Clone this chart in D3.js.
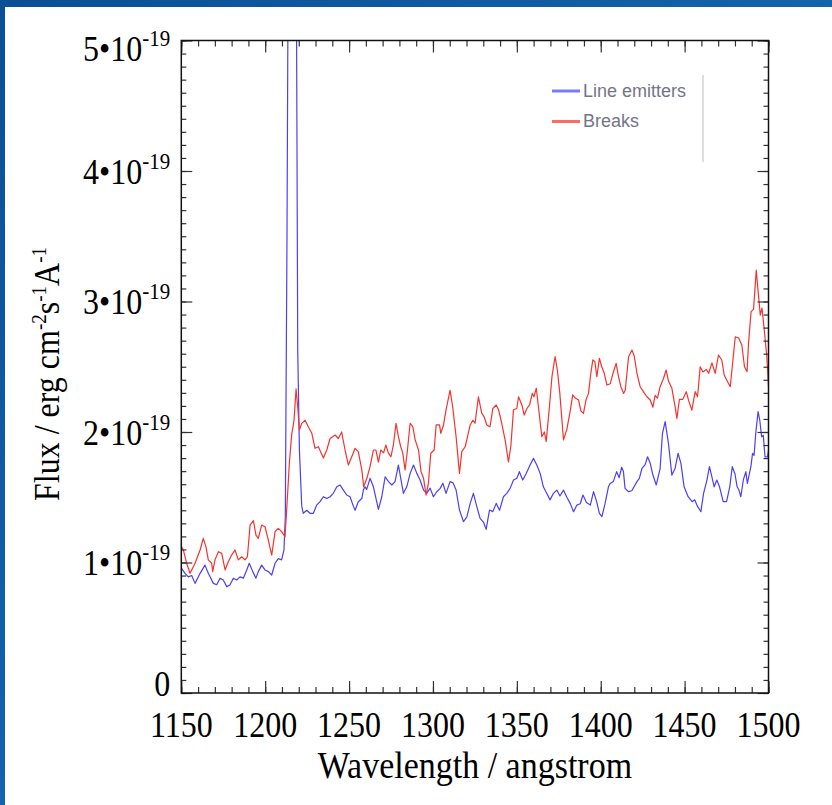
<!DOCTYPE html>
<html>
<head>
<meta charset="utf-8">
<script src="https://cdn.jsdelivr.net/npm/d3@7"></script>
<style>
  body { margin: 0; background: #0b5aa6; }
  svg { display: block; }
</style>
</head>
<body>
<svg id="spectra"></svg>
<script>
// stacked spectra, flux in units of 1e-19 erg cm^-2 s^-1 A^-1
let lineEmittersWave = [1150.2,1152.2,1154.2,1156.2,1158.2,1161.2,1164.1,1166.1,1169.1,1171.1,1173.1,1175.0,1177.1,1179.0,1181.0,1183.0,1185.0,1187.0,1189.0,1190.5,1192.6,1194.5,1195.9,1197.9,1199.9,1201.9,1203.9,1205.9,1207.8,1209.8,1211.2,1212.0,1213.0,1214.0,1216.0,1218.3,1219.4,1220.4,1221.8,1222.7,1224.8,1226.7,1228.7,1230.7,1232.7,1234.7,1236.7,1238.7,1240.6,1242.7,1244.6,1246.6,1248.6,1250.6,1252.6,1253.6,1255.5,1257.6,1258.5,1259.5,1260.5,1262.5,1264.5,1267.5,1269.5,1271.5,1273.5,1275.5,1277.4,1279.4,1280.8,1282.4,1284.4,1286.4,1288.4,1290.4,1292.3,1294.4,1296.3,1298.3,1300.3,1302.3,1304.3,1305.9,1307.8,1310.2,1312.0,1313.8,1315.8,1318.2,1320.2,1322.2,1324.1,1326.1,1328.1,1330.1,1331.7,1333.7,1335.7,1337.7,1339.7,1342.0,1344.0,1346.0,1348.0,1350.0,1351.5,1353.5,1355.5,1357.9,1359.9,1361.9,1363.9,1365.8,1367.8,1369.8,1371.8,1373.8,1375.7,1377.8,1379.8,1381.8,1383.8,1385.8,1387.8,1389.4,1391.5,1393.8,1395.7,1397.5,1399.2,1400.7,1402.6,1404.6,1405.6,1407.5,1409.5,1411.0,1412.5,1413.5,1414.5,1416.5,1418.5,1421.6,1423.0,1424.6,1426.5,1427.9,1429.5,1431.1,1433.1,1435.4,1436.8,1438.4,1440.4,1442.4,1444.3,1446.1,1447.8,1449.7,1452.1,1454.5,1456.0,1457.7,1459.7,1461.3,1463.3,1464.8,1466.2,1467.6,1469.2,1470.8,1473.0,1475.0,1476.9,1478.4,1480.0,1481.3,1482.4,1483.5,1485.0,1486.5,1487.4,1489.5,1490.5,1491.4,1492.4,1493.8,1494.8,1495.9,1496.9,1497.9,1499.4,1500.0];
let lineEmittersFlux = [0.955,0.917,0.89,0.90,0.84,0.917,0.98,0.917,0.84,0.83,0.88,0.866,0.815,0.828,0.88,0.866,0.89,0.88,0.943,0.994,0.93,0.88,0.93,0.98,0.943,0.93,0.904,0.994,1.03,1.02,1.096,1.35,3.5,6.5,9.0,6.5,2.63,1.86,1.43,1.377,1.40,1.377,1.377,1.44,1.466,1.504,1.49,1.504,1.53,1.58,1.594,1.555,1.517,1.504,1.43,1.40,1.466,1.49,1.555,1.58,1.56,1.645,1.58,1.407,1.504,1.657,1.62,1.594,1.62,1.747,1.645,1.53,1.58,1.683,1.747,1.683,1.632,1.555,1.53,1.57,1.504,1.542,1.568,1.607,1.53,1.62,1.61,1.555,1.402,1.313,1.35,1.453,1.53,1.43,1.338,1.31,1.254,1.402,1.39,1.453,1.40,1.504,1.53,1.568,1.632,1.645,1.696,1.632,1.68,1.747,1.798,1.747,1.683,1.58,1.53,1.48,1.53,1.555,1.51,1.555,1.50,1.453,1.389,1.44,1.45,1.517,1.46,1.44,1.543,1.47,1.377,1.351,1.453,1.58,1.606,1.62,1.696,1.65,1.73,1.70,1.568,1.543,1.55,1.62,1.645,1.722,1.75,1.81,1.76,1.67,1.594,1.72,1.99,2.079,1.91,1.67,1.72,1.837,1.76,1.58,1.504,1.466,1.48,1.43,1.389,1.53,1.632,1.734,1.66,1.58,1.632,1.58,1.466,1.466,1.58,1.734,1.68,1.58,1.555,1.504,1.632,1.696,1.606,1.734,1.837,1.82,1.99,2.156,2.09,1.964,1.975,1.81,1.81,1.86];

let breaksWave = [1150.2,1151.2,1153.2,1155.2,1158.2,1161.2,1163.1,1164.7,1166.1,1168.1,1168.7,1170.1,1172.1,1174.1,1176.1,1178.0,1180.0,1182.0,1184.0,1186.0,1188.0,1189.4,1191.0,1193.0,1194.5,1195.9,1197.9,1199.9,1201.9,1203.9,1205.9,1207.8,1209.8,1211.8,1212.8,1214.4,1215.8,1217.2,1218.4,1219.4,1220.4,1221.8,1223.8,1225.7,1227.8,1229.7,1231.7,1234.7,1236.7,1238.7,1241.7,1243.6,1245.6,1247.6,1249.6,1251.6,1253.6,1255.5,1257.6,1258.7,1260.6,1262.5,1264.5,1266.0,1267.5,1268.9,1270.6,1271.9,1273.4,1274.9,1276.4,1278.0,1279.4,1280.8,1282.0,1283.4,1284.8,1286.4,1288.0,1289.4,1291.4,1292.9,1294.4,1295.9,1297.3,1298.7,1300.7,1301.9,1303.9,1304.7,1306.3,1307.8,1310.2,1311.8,1313.8,1315.8,1317.2,1319.2,1320.6,1322.2,1323.8,1325.1,1327.1,1329.1,1330.5,1332.1,1334.0,1335.7,1337.7,1339.1,1341.0,1343.0,1345.0,1346.4,1348.0,1350.0,1351.0,1353.0,1354.4,1356.0,1357.6,1359.2,1360.2,1361.6,1362.9,1364.9,1366.4,1367.5,1369.4,1370.9,1372.8,1374.2,1375.6,1377.8,1379.8,1381.8,1383.3,1384.8,1386.8,1388.2,1389.7,1391.3,1392.7,1394.1,1395.3,1396.5,1397.7,1399.2,1400.6,1402.1,1403.7,1405.7,1407.3,1409.2,1410.6,1412.0,1413.6,1414.6,1416.6,1418.6,1420.0,1421.6,1423.5,1425.5,1427.5,1429.5,1431.1,1432.4,1433.8,1435.4,1437.4,1439.0,1440.4,1442.4,1444.4,1445.4,1446.9,1448.9,1451.0,1452.4,1454.3,1456.3,1457.7,1459.3,1460.9,1462.9,1464.3,1466.3,1468.2,1470.2,1472.2,1473.6,1475.6,1477.2,1478.8,1480.2,1482.2,1484.1,1485.7,1487.2,1488.1,1489.6,1491.1,1492.7,1494.1,1495.1,1496.1,1497.5,1499.0,1500.0];
let breaksFlux = [1.121,1.096,0.994,0.917,0.994,1.096,1.185,1.12,1.02,0.994,0.93,1.02,1.083,1.07,0.943,1.006,1.057,1.096,1.02,1.044,1.02,1.044,1.287,1.32,1.21,1.185,1.287,1.274,1.17,1.057,1.236,1.262,1.236,1.198,1.40,1.76,1.98,2.09,2.33,2.19,2.015,2.066,2.09,2.04,1.99,1.875,1.887,1.80,1.862,1.95,1.977,1.95,2.0,1.862,1.747,1.81,1.875,1.85,1.71,1.58,1.645,1.734,1.862,1.862,1.77,1.862,1.84,1.90,1.84,1.81,1.90,2.067,1.964,1.887,1.84,1.709,1.862,2.067,2.04,1.94,1.862,1.696,1.645,1.517,1.607,1.837,1.862,2.054,2.054,1.99,2.054,2.17,2.32,2.19,1.964,1.683,1.85,1.887,1.964,2.054,2.09,2.067,2.27,2.143,2.117,2.054,2.04,2.18,2.207,2.17,2.067,1.94,1.77,1.887,2.17,2.18,2.27,2.207,2.13,2.18,2.207,2.296,2.27,2.335,2.19,1.964,2.0,1.926,2.19,2.42,2.577,2.47,2.30,1.94,2.02,2.16,2.284,2.26,2.245,2.16,2.143,2.25,2.296,2.45,2.552,2.54,2.424,2.565,2.50,2.45,2.36,2.37,2.45,2.526,2.424,2.347,2.296,2.32,2.577,2.628,2.58,2.45,2.347,2.308,2.27,2.245,2.19,2.28,2.26,2.347,2.41,2.475,2.39,2.335,2.19,2.105,2.25,2.25,2.309,2.24,2.168,2.309,2.27,2.5,2.46,2.48,2.45,2.53,2.45,2.59,2.55,2.437,2.385,2.347,2.552,2.73,2.72,2.667,2.50,2.462,2.68,2.922,2.94,3.24,3.037,2.896,2.95,2.78,2.577,2.347];

// axis ticks and legend labels
let waveTicks = [1150, 1200, 1250, 1300, 1350, 1400, 1450, 1500];
let waveMinorTicks = d3.range(1150, 1501, 10);
let fluxTicks = [0, 1, 2, 3, 4, 5];
let fluxMinorTicks = d3.range(0, 50.5, 1).map(d => d / 10);
let seriesNames = ['Line emitters', 'Breaks'];
let seriesColors = ['#4b3ff7', '#f5322e'];
let legendColors = ['#7a78ff', '#ff6a66'];

// svg size and margins
let widthSVG = 832;
let heightSVG = 805;
let margins = {
  top: 40.5,
  bottom: 112,
  right: 63.5,
  left: 181.3
}
let width = widthSVG - margins.left - margins.right;
let height = heightSVG - margins.top - margins.bottom;

let serif = '"Liberation Serif", "Times New Roman", serif';
// the slide squashes text a little wider than tall, so glyphs get a vertical stretch
let stretch = 1.12;

let SVG = d3.select('svg#spectra')
            .attr('width', widthSVG)
            .attr('height', heightSVG);

// blue slide background and the white panel
let defs = SVG.append('defs');
let bgGrad = defs.append('linearGradient')
                 .attr('id', 'bgGrad')
                 .attr('x1', 0).attr('y1', 0).attr('x2', 1).attr('y2', 1);
bgGrad.append('stop').attr('offset', '0%').attr('stop-color', '#0a4f95');
bgGrad.append('stop').attr('offset', '50%').attr('stop-color', '#1463ad');
bgGrad.append('stop').attr('offset', '100%').attr('stop-color', '#0b5299');

SVG.append('rect')
   .attr('width', widthSVG)
   .attr('height', heightSVG)
   .style('fill', 'url(#bgGrad)');

SVG.append('rect')
   .attr('x', 5)
   .attr('y', 7)
   .attr('width', widthSVG - 5)
   .attr('height', heightSVG - 7)
   .style('fill', '#ffffff');

defs.append('clipPath')
    .attr('id', 'plotClip')
    .append('rect')
    .attr('width', width)
    .attr('height', height);

let SVGG = SVG.append('g')
              .attr('id', 'chartGroup')
              .attr('transform', `translate(${margins.left}, ${margins.top})`);

// scales
let x = d3.scaleLinear().domain([1150, 1500]).range([0, width]);
let y = d3.scaleLinear().domain([0, 5]).range([height, 0]);

// spectra
let line = d3.line()
             .x(d => x(d[0]))
             .y(d => y(d[1]));

let spectra = [
  d3.zip(lineEmittersWave, lineEmittersFlux),
  d3.zip(breaksWave, breaksFlux)
];

SVGG.append('g')
    .attr('clip-path', 'url(#plotClip)')
    .selectAll('path.spectrum')
    .data(spectra)
    .enter()
    .append('path')
    .classed('spectrum', true)
    .attr('d', line)
    .style('fill', 'none')
    .style('stroke', (d, i) => seriesColors[i])
    .style('stroke-width', '1.2px')
    .style('stroke-linejoin', 'round');

// ticks on all four sides, pointing inward
function tickAxis(axis, values, size, transform) {
  SVGG.append('g')
      .attr('transform', transform)
      .call(axis.tickValues(values).tickSizeInner(-size).tickSizeOuter(0).tickFormat(''))
      .call(g => g.select('.domain').remove())
      .call(g => g.selectAll('line').style('stroke', '#333').style('stroke-width', '1.2px'));
}
tickAxis(d3.axisBottom(x), waveMinorTicks, 6, `translate(0, ${height})`);
tickAxis(d3.axisBottom(x), waveTicks, 12, `translate(0, ${height})`);
tickAxis(d3.axisTop(x), waveMinorTicks, 6, 'translate(0, 0)');
tickAxis(d3.axisTop(x), waveTicks, 12, 'translate(0, 0)');
tickAxis(d3.axisLeft(y), fluxMinorTicks, 5, 'translate(0, 0)');
tickAxis(d3.axisLeft(y), fluxTicks, 11, 'translate(0, 0)');
tickAxis(d3.axisRight(y), fluxMinorTicks, 5, `translate(${width}, 0)`);
tickAxis(d3.axisRight(y), fluxTicks, 11, `translate(${width}, 0)`);

// frame
SVGG.append('rect')
    .attr('width', width)
    .attr('height', height)
    .style('fill', 'none')
    .style('stroke', '#111')
    .style('stroke-width', '1.5px');

// x tick labels
SVGG.append('g')
    .attr('transform', `translate(0, ${height})`)
    .selectAll('text')
    .data(waveTicks)
    .enter()
    .append('text')
    .text(d => d)
    .attr('transform', d => `translate(${x(d)}, 44) scale(1, ${stretch})`)
    .style('text-anchor', 'middle')
    .style('font-family', serif)
    .style('font-size', '32px')
    .style('fill', '#000');

// y tick labels, written as n•10^-19
let yLabels = SVGG.append('g')
                  .selectAll('text')
                  .data(fluxTicks)
                  .enter()
                  .append('text')
                  .attr('transform', d => `translate(-11, ${y(d) + (d == 0 ? -10 : d == 5 ? 8 : 0)}) scale(1, ${stretch})`)
                  .attr('dy', '0.35em')
                  .style('text-anchor', 'end')
                  .style('font-family', serif)
                  .style('font-size', '32px')
                  .style('fill', '#000');

yLabels.append('tspan')
       .text(d => d == 0 ? '0' : `${d}\u202210`);
yLabels.filter(d => d != 0)
       .append('tspan')
       .text('-19')
       .attr('dy', -13)
       .style('font-size', '21px');

// axis titles
SVGG.append('text')
    .text('Wavelength / angstrom')
    .attr('transform', `translate(${width / 2}, ${height + 85}) scale(1, ${stretch})`)
    .style('text-anchor', 'middle')
    .style('font-family', serif)
    .style('font-size', '34px')
    .style('fill', '#000');

let yTitle = SVG.append('text')
                .attr('transform', `translate(59, 374) rotate(-90) scale(1, ${stretch})`)
                .style('text-anchor', 'middle')
                .style('font-family', serif)
                .style('font-size', '32px')
                .style('fill', '#000');

let titleParts = [
  ['Flux / erg cm', 0], ['-2', -12], ['s', 12], ['-1', -12], ['A', 12], ['-1', -12]
];
yTitle.selectAll('tspan')
      .data(titleParts)
      .enter()
      .append('tspan')
      .text(d => d[0])
      .attr('dy', d => d[1])
      .style('font-size', d => d[1] < 0 ? '19px' : '32px');

// legend
let legend = SVG.append('g')
                .attr('transform', 'translate(552, 91)');

let legendRows = legend.selectAll('g')
                       .data(seriesNames)
                       .enter()
                       .append('g')
                       .attr('transform', (d, i) => `translate(0, ${i * 30.5})`);

legendRows.append('line')
          .attr('x1', 0)
          .attr('x2', 28)
          .style('stroke', (d, i) => legendColors[i])
          .style('stroke-width', '3px');

legendRows.append('text')
          .text(d => d)
          .attr('x', 31)
          .attr('y', 5.5)
          .style('font-family', '"Liberation Sans", Arial, sans-serif')
          .style('font-size', '18px')
          .style('fill', '#74748a');

// faint edge of the legend box
legend.append('line')
      .attr('x1', 151)
      .attr('x2', 151)
      .attr('y1', -16)
      .attr('y2', 71)
      .style('stroke', '#dedede')
      .style('stroke-width', '2px');
</script>
</body>
</html>
